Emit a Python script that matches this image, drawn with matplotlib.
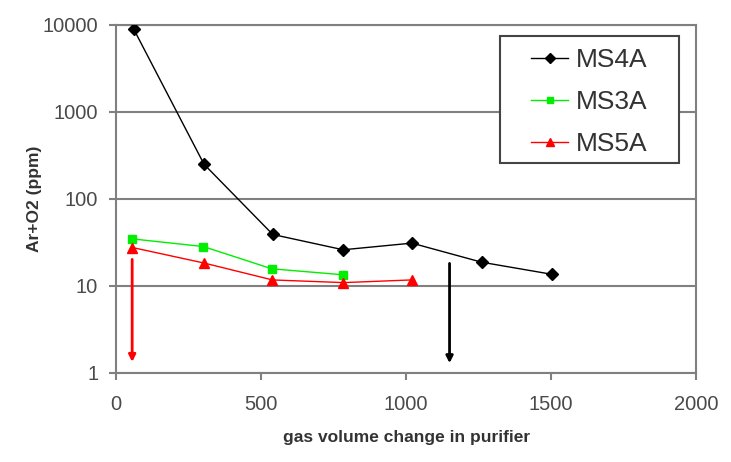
import matplotlib
matplotlib.use('Agg')
import matplotlib.pyplot as plt
from matplotlib.patches import Rectangle

plt.rcParams['font.family'] = ['Liberation Sans', 'DejaVu Sans']

# MS4A
ms4a_x = [60, 303, 540, 783, 1020, 1261, 1502]
ms4a_y = [9000, 250, 39, 26, 31, 18.7, 13.6]
# MS3A
ms3a_x = [55, 301, 537, 784]
ms3a_y = [34.7, 28.3, 15.7, 13.4]
# MS5A
ms5a_x = [56, 303, 539, 784, 1019]
ms5a_y = [27.6, 18.3, 11.7, 10.9, 11.7]

# arrows: x, start, end
red_arrow = (55, 21.7, 1.24)
black_arrow = (1150, 19.5, 1.2)

fig = plt.figure(figsize=(7.31, 4.62), dpi=100)
ax = fig.add_axes([0.159, 0.193, 0.793, 0.753])

ax.plot(ms4a_x, ms4a_y, color='black', lw=1, marker='D', ms=6, label='MS4A', zorder=3)
ax.plot(ms3a_x, ms3a_y, color='#00ee00', lw=1, marker='s', ms=6, label='MS3A', zorder=3)
ax.plot(ms5a_x, ms5a_y, color='red', lw=1, marker='^', ms=7, label='MS5A', zorder=3)

ax.annotate('', xy=(red_arrow[0], red_arrow[2]), xytext=(red_arrow[0], red_arrow[1]),
            arrowprops=dict(arrowstyle='-|>', color='red', lw=2, mutation_scale=10))
ax.annotate('', xy=(black_arrow[0], black_arrow[2]), xytext=(black_arrow[0], black_arrow[1]),
            arrowprops=dict(arrowstyle='-|>', color='black', lw=2, mutation_scale=10))

ax.set_yscale('log')
ax.set_ylim(1, 10000)
ax.set_xlim(0, 2000)
ax.set_xticks([0, 500, 1000, 1500, 2000])
ax.set_yticks([1, 10, 100, 1000, 10000])
ax.set_yticklabels(['1', '10', '100', '1000', '10000'])
ax.minorticks_off()
ax.yaxis.grid(True, color='#808080', lw=1.5)
ax.set_axisbelow(True)

for s in ax.spines.values():
    s.set_color('#808080')
    s.set_linewidth(1.5)
ax.tick_params(axis='both', colors='#808080', labelcolor='#4a4a4a', labelsize=14.5,
               length=5, width=1.5, direction='out')
ax.tick_params(axis='x', pad=11)
ax.tick_params(axis='y', pad=8)

ax.set_xlabel('gas volume change in purifier', fontsize=12.5, fontweight='bold', color='#333333')
ax.set_ylabel('Ar+O2 (ppm)', fontsize=12.5, fontweight='bold', color='#333333')
ax.xaxis.set_label_coords(0.5, -0.165)
ax.yaxis.set_label_coords(-0.128, 0.5)

# legend box
box = Rectangle((0.684, 0.647), 0.245, 0.276, transform=fig.transFigure,
                facecolor='white', edgecolor='#444444', lw=1.5, zorder=4)
ax.add_patch(box)
leg = ax.legend(loc='center', bbox_to_anchor=(0.8065, 0.779), bbox_transform=fig.transFigure,
                fontsize=19, frameon=False, labelspacing=0.68,
                handlelength=1.4, handletextpad=0.3, markerscale=0.8)
leg.set_zorder(5)
for t in leg.get_texts():
    t.set_color('#333333')

fig.savefig('out.png', dpi=100)
